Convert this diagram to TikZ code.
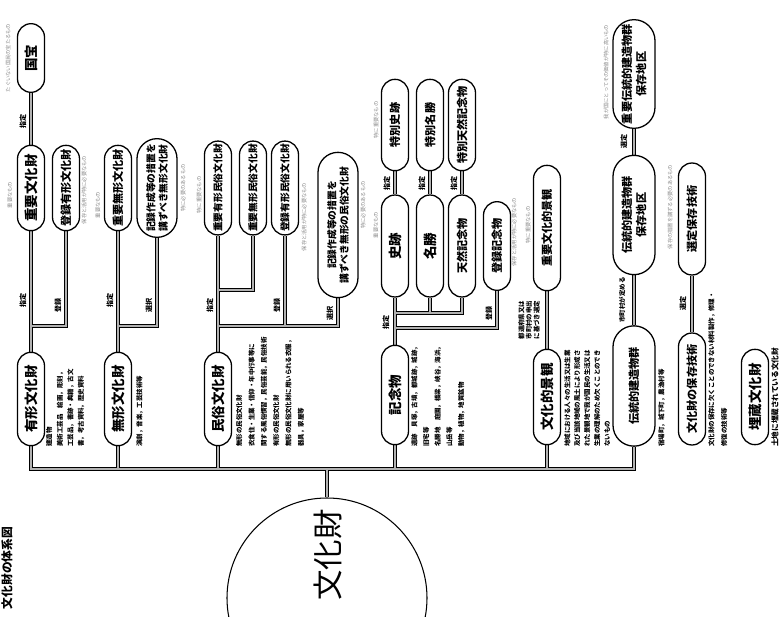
\documentclass[tikz,border=0pt]{standalone}
\usepackage{fontspec}
\setmainfont{Noto Sans CJK JP}
\usetikzlibrary{shapes.misc,backgrounds}

\begin{document}
\begin{tikzpicture}[x=0.03cm,y=-0.03cm,
  capsule/.style={draw,line width=1.1pt,fill=white,rounded rectangle,rotate=90,
    minimum height=0.81cm,inner xsep=2pt,inner ysep=1pt,align=center,
    font=\bfseries\fontsize{9.5}{10.5}\selectfont},
  capbig/.style={capsule,font=\bfseries\fontsize{11.5}{12}\selectfont},
  capsmall/.style={capsule,font=\bfseries\fontsize{8.3}{9}\selectfont},
  capwide/.style={capsule,minimum height=1.2cm,font=\bfseries\fontsize{8.3}{10.5}\selectfont},
  capdent/.style={capsule,minimum height=1.26cm,font=\bfseries\fontsize{9.5}{12}\selectfont},
  link/.style={draw=black,line width=0.45pt,double=black!30,double distance=2.4pt},
  tag/.style={rotate=90,inner sep=0pt,align=center,font=\bfseries\fontsize{6}{7}\selectfont},
  note/.style={rotate=90,anchor=north west,inner sep=0pt,align=left,
    font=\bfseries\fontsize{5.5}{9}\selectfont},
  faint/.style={rotate=90,inner sep=0pt,text=black!45,font=\fontsize{4.5}{5}\selectfont}
]
\useasboundingbox (0,0) rectangle (781,617);

\node[rotate=90,font=\bfseries\fontsize{10}{11}\selectfont] (title) at (7,568) {文化財の体系図};

% 文化財
\node[draw,circle,line width=0.9pt,minimum size=6cm,inner sep=0pt] (bunka) at (327,598) {};
\node[rotate=90,font=\fontsize{26}{28}\selectfont] (bunkaname) at (328,555) {文化財};

% 有形・無形
\node[capbig,minimum width=2.94cm] (yuukei) at (31,399) {有形文化財};
\node[capbig,minimum width=2.7cm] (juubun) at (31,188) {重要文化財};
\node[capbig,minimum width=2.2cm] (kokuhou) at (31,58) {国宝};
\node[capsule,minimum width=2.7cm] (tourokuyuukei) at (66,188) {登録有形文化財};
\node[capbig,minimum width=2.94cm] (mukei) at (118,399) {無形文化財};
\node[capsule,minimum width=2.7cm] (juumukei) at (118,188) {重要無形文化財};
\node[capwide,minimum width=2.7cm] (kirokumukei) at (157,188) {記録作成等の措置を\\講ずべき無形文化財};

% 民俗
\node[capbig,minimum width=2.94cm] (minzoku) at (218,399) {民俗文化財};
\node[capsmall,minimum width=2.7cm] (juuyuuminzoku) at (218,188) {重要有形民俗文化財};
\node[capsmall,minimum width=2.7cm] (juumuminzoku) at (253,188) {重要無形民俗文化財};
\node[capsmall,minimum width=2.7cm] (tourokuminzoku) at (285,188) {登録有形民俗文化財};
\node[capwide,minimum width=4.5cm] (kirokuminzoku) at (338,225) {記録作成等の措置を\\講ずべき無形の民俗文化財};

% 記念物
\node[capbig,minimum width=3.12cm] (kinenbutsu) at (395,395) {記念物};
\node[capbig,minimum width=3.2cm] (shiseki) at (395,246) {史跡};
\node[capbig,minimum width=3.2cm] (meishou) at (430,246) {名勝};
\node[capsule,minimum width=3.2cm] (tennen) at (462,246) {天然記念物};
\node[capsule,minimum width=2.88cm] (tokushiseki) at (395,125) {特別史跡};
\node[capsule,minimum width=2.88cm] (tokumeishou) at (430,125) {特別名勝};
\node[capsule,minimum width=2.88cm] (tokutennen) at (462,125) {特別天然記念物};
\node[capsule,minimum width=2.8cm] (tourokukinen) at (497,246) {登録記念物};

% 景観・建造物群
\node[capbig,minimum width=3cm] (keikan) at (547,397) {文化的景観};
\node[capsule,minimum width=3.9cm] (juukeikan) at (547,228) {重要文化的景観};
\node[capdent,minimum width=3.75cm] (dentou) at (634,386) {伝統的建造物群};
\node[capdent,minimum width=3.72cm] (dentouchiku) at (634,215) {伝統的建造物群\\保存地区};
\node[capdent,minimum width=3.4cm] (juudentou) at (634,74) {重要伝統的建造物群\\保存地区};
\node[capsule,minimum width=3.5cm] (hozon) at (692,389) {文化財の保存技術};
\node[capsule,minimum width=3.5cm] (senteihozon) at (692,219) {選定保存技術};
\node[capbig,minimum width=3cm] (maizou) at (755,397) {埋蔵文化財};

\coordinate (trunk) at (0,469);
\coordinate (brA) at (31,326);
\coordinate (brB) at (118,326);
\coordinate (brC) at (218,290);
\coordinate (brD) at (218,326);
\coordinate (brE) at (395,313);
\coordinate (brF) at (395,328);

\begin{pgfonlayer}{background}
\draw[link]
  (yuukei.east) -- (juubun.west) (juubun.east) -- (kokuhou.west)
  (brA) -| (tourokuyuukei.west)
  (mukei.east) -- (juumukei.west) (brB) -| (kirokumukei.west)
  (minzoku.east) -- (juuyuuminzoku.west) (brC) -| (juumuminzoku.west)
  (brD) -| (kirokuminzoku.west) (tourokuminzoku.west |- brD) -- (tourokuminzoku.west)
  (kinenbutsu.east) -- (shiseki.west) (brE) -| (tennen.west)
  (meishou.west |- brE) -- (meishou.west) (brF) -| (tourokukinen.west)
  (shiseki.east) -- (tokushiseki.west) (meishou.east) -- (tokumeishou.west)
  (tennen.east) -- (tokutennen.west)
  (keikan.east) -- (juukeikan.west)
  (dentou.east) -- (dentouchiku.west) (dentouchiku.east) -- (juudentou.west)
  (hozon.east) -- (senteihozon.west)
  (mukei.west) -- (mukei.west |- trunk) (minzoku.west) -- (minzoku.west |- trunk)
  (kinenbutsu.west) -- (kinenbutsu.west |- trunk) (keikan.west) -- (keikan.west |- trunk)
  (bunka.north) -- (bunka.north |- trunk)
  (yuukei.west) -- (yuukei.west |- trunk) -- (dentou.west |- trunk) -- (dentou.west);
\end{pgfonlayer}

% 区分
\node[tag] (t1) at (23,300) {指定};
\node[tag] (t2) at (23,121) {指定};
\node[tag] (t3) at (58,305) {登録};
\node[tag] (t4) at (110,300) {指定};
\node[tag] (t5) at (149,305) {選択};
\node[tag] (t6) at (210,305) {指定};
\node[tag] (t7) at (277,305) {登録};
\node[tag] (t8) at (330,313) {選択};
\node[tag] (t9) at (386,322) {指定};
\node[tag] (t10) at (489,313) {登録};
\node[tag] (t11) at (387,183) {指定};
\node[tag] (t12) at (422,183) {指定};
\node[tag] (t13) at (454,183) {指定};
\node[tag,font=\bfseries\fontsize{5.5}{6.5}\selectfont] (t14) at (529,320) {都道府県又は\\市町村の申出\\に基づき選定};
\node[tag,font=\bfseries\fontsize{5.5}{6}\selectfont] (t15) at (622,300) {市町村が定める};
\node[tag] (t16) at (624,141) {選定};
\node[tag] (t17) at (683,303) {選定};

% 説明
\node[note] (n1) at (46,447) {建造物\\美術工芸品　絵画，彫刻，\\工芸品，書跡・典籍，古文\\書，考古資料，歴史資料};
\node[note] (n2) at (136,447) {演劇，音楽，工芸技術等};
\node[note,font=\bfseries\fontsize{5.5}{10.5}\selectfont] (n3) at (236,447) {無形の民俗文化財\\衣食住・生業・信仰・年中行事等に\\関する風俗慣習，民俗芸能，民俗技術\\有形の民俗文化財\\無形の民俗文化財に用いられる衣服，\\器具，家屋等};
\node[note,font=\bfseries\fontsize{5.5}{10}\selectfont] (n4) at (411,447) {遺跡　貝塚，古墳，都城跡，城跡，\\旧宅等\\名勝地　庭園，橋梁，峡谷，海浜，\\山岳等\\動物，植物，地質鉱物};
\node[note,font=\bfseries\fontsize{5.5}{8.5}\selectfont] (n5) at (564,447) {地域における人々の生活又は生業\\及び当該地域の風土により形成さ\\れた景観地で我が国民の生活又は\\生業の理解のため欠くことのでき\\ないもの};
\node[note] (n6) at (658,447) {宿場町，城下町，農漁村等};
\node[note,font=\bfseries\fontsize{5.5}{11}\selectfont] (n7) at (708,447) {文化財の保存に欠くことのできない材料製作，修理・\\修復の技術等};
\node[note,font=\bfseries\fontsize{6.5}{8}\selectfont] (n8) at (771,447) {土地に埋蔵されている文化財};

% 基準
\node[faint] (g1) at (8,58) {たぐいない国民の宝たるもの};
\node[faint] (g2) at (10,195) {重要なもの};
\node[faint] (g3) at (84,190) {保存と活用が特に必要なもの};
\node[faint] (g4) at (98,205) {重要なもの};
\node[faint] (g5) at (183,188) {特に必要のあるもの};
\node[faint] (g6) at (199,195) {特に重要なもの};
\node[faint] (g7) at (304,217) {保存と活用が特に必要なもの};
\node[faint] (g8) at (363,205) {特に必要のあるもの};
\node[faint] (g9) at (376,225) {重要なもの};
\node[faint] (g10) at (376,120) {特に重要なもの};
\node[faint] (g11) at (514,232) {保存と活用が特に必要なもの};
\node[faint] (g12) at (528,225) {特に重要なもの};
\node[faint] (g13) at (606,72) {我が国にとってその価値が特に高いもの};
\node[faint] (g14) at (670,207) {保存の措置を講ずる必要のあるもの};
\end{tikzpicture}
\end{document}
